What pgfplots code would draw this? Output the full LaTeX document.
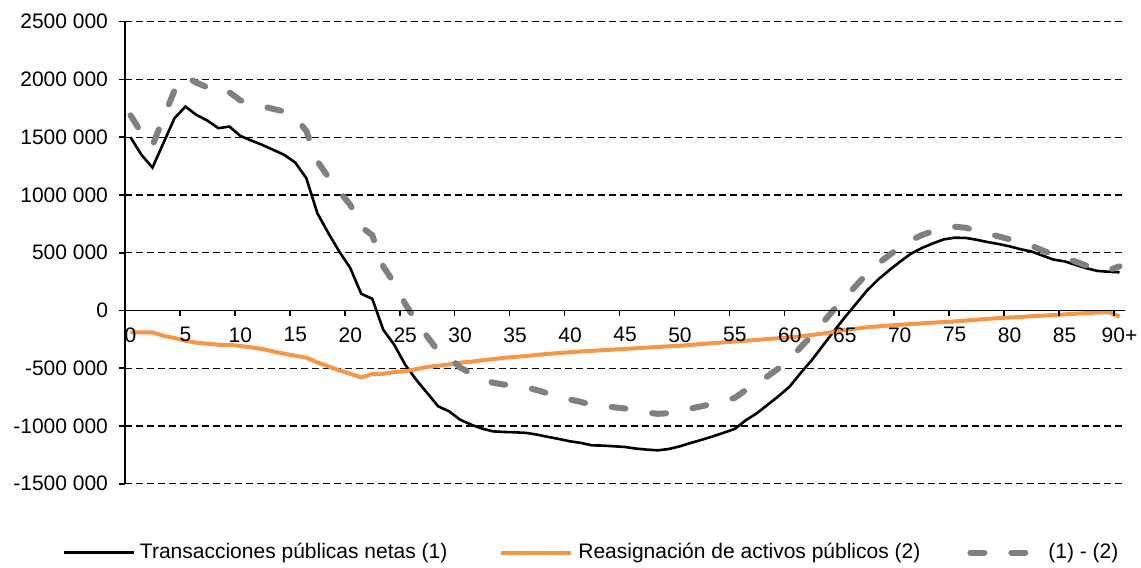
\documentclass[border=0pt]{standalone}
\usepackage{fontspec}
\setmainfont{Liberation Sans}
\usepackage{pgfplots}
\usepackage{pgfplotstable}
\pgfplotsset{compat=1.18}
\definecolor{myorange}{RGB}{247,150,70}
\definecolor{mygray}{RGB}{128,128,128}

\pgfplotstableread{
age val
0 1500000
1 1347000
2 1237000
3 1450000
4 1664000
5 1765000
6 1693000
7 1644000
8 1578000
9 1592000
10 1511000
11 1471000
12 1433000
13 1390000
14 1347000
15 1280000
16 1145000
17 843000
18 670000
19 510000
20 367000
21 144000
22 101000
23 -167000
24 -297000
25 -470000
26 -600000
27 -715000
28 -830000
29 -874000
30 -946000
31 -989000
32 -1023000
33 -1047000
34 -1052000
35 -1055000
36 -1060000
37 -1075000
38 -1095000
39 -1113000
40 -1133000
41 -1147000
42 -1168000
43 -1170000
44 -1176000
45 -1182000
46 -1196000
47 -1205000
48 -1211000
49 -1199000
50 -1176000
51 -1147000
52 -1119000
53 -1090000
54 -1058000
55 -1025000
56 -950000
57 -890000
58 -815000
59 -740000
60 -657000
61 -540000
62 -430000
63 -305000
64 -180000
65 -60000
66 55000
67 170000
68 265000
69 345000
70 420000
71 490000
72 540000
73 580000
74 615000
75 630000
76 628000
77 612000
78 592000
79 575000
80 555000
81 530000
82 510000
83 475000
84 440000
85 425000
86 395000
87 365000
88 342000
89 335000
90 330000
}\tblA

\pgfplotstableread{
age val
0 -190000
1 -190000
2 -190000
3 -219000
4 -239000
5 -262000
6 -279000
7 -288000
8 -297000
9 -297000
10 -308000
11 -320000
12 -334000
13 -355000
14 -375000
15 -392000
16 -409000
17 -450000
18 -484000
19 -519000
20 -548000
21 -580000
22 -550000
23 -548000
24 -533000
25 -527000
26 -507000
27 -490000
28 -478000
29 -467000
30 -452000
31 -444000
32 -432000
33 -421000
34 -410000
35 -402000
36 -395000
37 -385000
38 -376000
39 -368000
40 -362000
41 -355000
42 -350000
43 -344000
44 -338000
45 -333000
46 -327000
47 -321000
48 -316000
49 -310000
50 -305000
51 -298000
52 -290000
53 -283000
54 -276000
55 -269000
56 -262000
57 -255000
58 -247000
59 -240000
60 -232000
61 -224000
62 -212000
63 -200000
64 -185000
65 -170000
66 -158000
67 -146000
68 -138000
69 -131000
70 -124000
71 -118000
72 -112000
73 -106000
74 -100000
75 -95000
76 -88000
77 -80000
78 -73000
79 -66000
80 -61000
81 -56000
82 -50000
83 -45000
84 -40000
85 -34000
86 -28000
87 -23000
88 -18000
89 -14000
90 -52000
}\tblB

\pgfplotstableread{
age val
0 1690000
1 1537000
2 1427000
3 1669000
4 1903000
5 2027000
6 1972000
7 1932000
8 1875000
9 1889000
10 1819000
11 1791000
12 1767000
13 1745000
14 1722000
15 1672000
16 1554000
17 1293000
18 1154000
19 1029000
20 915000
21 724000
22 651000
23 381000
24 236000
25 57000
26 -93000
27 -225000
28 -352000
29 -407000
30 -494000
31 -545000
32 -591000
33 -626000
34 -642000
35 -653000
36 -665000
37 -690000
38 -719000
39 -745000
40 -771000
41 -792000
42 -818000
43 -826000
44 -838000
45 -849000
46 -869000
47 -884000
48 -895000
49 -889000
50 -871000
51 -849000
52 -829000
53 -807000
54 -782000
55 -756000
56 -688000
57 -635000
58 -568000
59 -500000
60 -425000
61 -316000
62 -218000
63 -105000
64 5000
65 110000
66 213000
67 316000
68 403000
69 476000
70 544000
71 608000
72 652000
73 686000
74 715000
75 725000
76 716000
77 692000
78 665000
79 641000
80 616000
81 586000
82 560000
83 520000
84 480000
85 459000
86 423000
87 388000
88 360000
89 349000
90 382000
}\tblC

\begin{document}
\begin{tikzpicture}
\begin{axis}[
  name=main,
  scale only axis, width=500pt, height=231pt,
  at={(0pt,0pt)}, anchor=south west,
  xmin=0, xmax=91, ymin=-1500000, ymax=2500000,
  axis x line=none, axis y line*=left,
  axis line style={black, line width=0.9pt},
  xtick=\empty,
  ytick={-1500000,-1000000,-500000,0,500000,1000000,1500000,2000000,2500000},
  yticklabels={-1500 000,-1000 000,-500 000,0,500 000,1000 000,1500 000,2000 000,2500 000},
  scaled y ticks=false,
  ymajorgrids,
  grid style={black, line width=0.65pt, dash pattern=on 3.3pt off 2.2pt},
  tick style={black, line width=0.8pt},
  major tick length=3pt,
  tick align=outside,
  ticklabel style={font=\fontsize{10.5}{12}\selectfont},
  yticklabel style={anchor=east, xshift=-2pt},
  /pgf/number format/assume math mode=true,
  legend columns=3,
  legend style={at={(rel axis cs:-0.063,-0.149)}, anchor=west, draw=none, fill=none,
    inner sep=0pt, font=\fontsize{10.5}{12}\selectfont,
    nodes={inner sep=0pt},
    /tikz/every odd column/.append style={column sep=2.5pt},
    /tikz/column 2/.style={column sep=26pt},
    /tikz/column 4/.style={column sep=23.5pt}},
  legend image code/.code={\draw[#1] (0pt,0pt) -- (35pt,0pt);},
]
\addplot[black, line width=1.3pt] table[x expr=\thisrow{age}+0.5, y=val] {\tblA};
\addlegendentry{Transacciones públicas netas (1)}
\addplot[myorange, line width=2pt] table[x expr=\thisrow{age}+0.5, y=val] {\tblB};
\addlegendentry{Reasignación de activos públicos (2)}
\addplot[mygray, line width=3pt, line cap=round, dash pattern=on 7pt off 13.5pt] table[x expr=\thisrow{age}+0.5, y=val] {\tblC};
\addlegendentry{(1) - (2)}
\end{axis}
\begin{axis}[
  scale only axis, width=500pt, height=144.375pt,
  at={(0pt,86.625pt)}, anchor=south west,
  xmin=0, xmax=91, ymin=0, ymax=1,
  axis x line*=bottom, axis y line=none,
  ytick=\empty,
  axis line style={black, line width=0.9pt},
  xtick={0,5,...,90},
  xticklabels={0,5,10,15,20,25,30,35,40,45,50,55,60,65,70,75,80,85,90+},
  tick style={black, line width=0.8pt},
  major tick length=3pt,
  tick align=outside,
  ticklabel style={font=\fontsize{10.5}{12}\selectfont},
  xticklabel style={anchor=north, xshift=2.75pt, yshift=-2pt},
]
\end{axis}
\pgfresetboundingbox
\path[use as bounding box] ([xshift=-62.5pt,yshift=-42pt]main.south west) rectangle ([xshift=8pt,yshift=10.85pt]main.north east);
\end{tikzpicture}
\end{document}
